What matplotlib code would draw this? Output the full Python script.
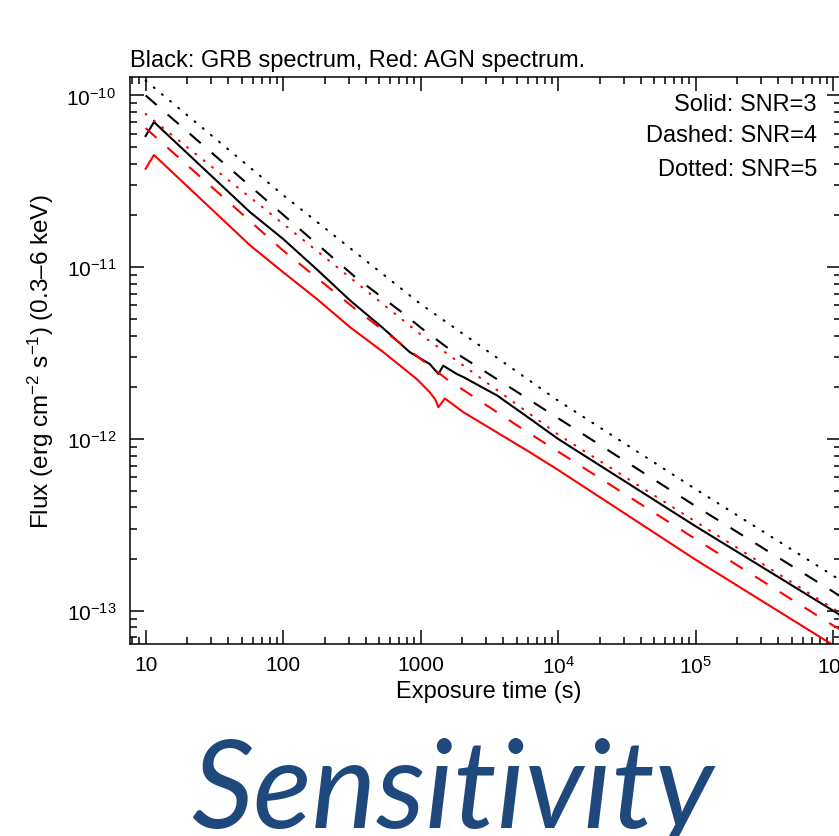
import numpy as np
import matplotlib
matplotlib.use('Agg')
import matplotlib.pyplot as plt
from matplotlib.ticker import LogLocator, NullFormatter, FuncFormatter

# exposure time (s) and flux limit (erg cm^-2 s^-1)
t_grb_solid = [10, 11.5, 57.5, 100, 176, 307, 536, 834, 1165, 1346, 1460, 1830, 2050, 3600, 6250,
               1e4, 1e5, 1e6, 1.15e6]
f_grb_solid = [5.8e-11, 7.0e-11, 2.09e-11, 1.46e-11, 9.7e-12, 6.4e-12, 4.4e-12, 3.2e-12, 2.73e-12,
               2.39e-12, 2.67e-12, 2.39e-12, 2.29e-12, 1.79e-12, 1.31e-12, 1.0e-12, 3.1e-13, 1.0e-13, 9.3e-14]

t_agn_solid = [10, 11.5, 57.5, 100, 176, 307, 536, 938, 1165, 1276, 1346, 1500, 2050, 3600, 6250,
               1e4, 1e5, 1e6, 1.15e6]
f_agn_solid = [3.74e-11, 4.5e-11, 1.34e-11, 9.35e-12, 6.53e-12, 4.47e-12, 3.2e-12, 2.23e-12, 1.87e-12,
               1.7e-12, 1.53e-12, 1.72e-12, 1.43e-12, 1.09e-12, 8.35e-13, 6.6e-13, 1.98e-13, 6.3e-14, 5.9e-14]

t_dashed = [10, 100, 335, 729, 1000, 1549, 4864, 1e4, 1e5, 1e6, 1.15e6]
f_grb_dashed = [1.0e-10, 2.02e-11, 8.75e-12, 5.47e-12, 4.45e-12, 3.42e-12, 1.91e-12, 1.32e-12, 4.06e-13, 1.29e-13, 1.2e-13]
f_agn_dashed = [6.45e-11, 1.25e-11, 5.71e-12, 3.55e-12, 2.92e-12, 2.23e-12, 1.22e-12, 8.44e-13, 2.61e-13, 8.2e-14, 7.7e-14]

t_dotted = [10, 100, 1000, 1e4, 1e5, 1e6, 1.15e6]
f_grb_dotted = [1.22e-10, 2.63e-11, 6.1e-12, 1.67e-12, 5.1e-13, 1.6e-13, 1.48e-13]
f_agn_dotted = [7.8e-11, 1.79e-11, 4.06e-12, 1.06e-12, 3.3e-13, 1.03e-13, 9.6e-14]

snr_notes = ['Solid: SNR=3', 'Dashed: SNR=4', 'Dotted: SNR=5']

plt.rcParams['font.family'] = ['Liberation Sans', 'DejaVu Sans']
plt.rcParams['mathtext.fontset'] = 'custom'
plt.rcParams['mathtext.rm'] = 'Liberation Sans'
plt.rcParams['mathtext.it'] = 'Liberation Sans:italic'
plt.rcParams['mathtext.bf'] = 'Liberation Sans:bold'

W, H = 839, 837
fig = plt.figure(figsize=(W / 100, H / 100), dpi=100)
# right spine sits just past the image edge, like the cropped slide
ax = fig.add_axes([130 / W, 1 - 645 / H, (841 - 130) / W, (645 - 78) / H])

lw = 1.5
dash = (0, (7, 7))
dot = (0, (0.5, 4.6))
ax.plot(t_grb_solid, f_grb_solid, color='black', lw=lw)
ax.plot(t_agn_solid, f_agn_solid, color='red', lw=lw)
ax.plot(t_dashed, f_grb_dashed, color='black', lw=lw, linestyle=dash)
ax.plot(t_dashed, f_agn_dashed, color='red', lw=lw, linestyle=dash)
ax.plot(t_dotted, f_grb_dotted, color='black', lw=lw, linestyle=dot, dash_capstyle='round')
ax.plot(t_dotted, f_agn_dotted, color='red', lw=lw, linestyle=dot, dash_capstyle='round')

ax.set_xscale('log')
ax.set_yscale('log')
ax.set_xlim(7.7, 1.14e6)
ax.set_ylim(6.4e-14, 1.28e-10)

ax.xaxis.set_major_locator(LogLocator(base=10, numticks=12))
ax.xaxis.set_minor_locator(LogLocator(base=10, subs=np.arange(2, 10), numticks=12))
ax.yaxis.set_major_locator(LogLocator(base=10, numticks=12))
ax.yaxis.set_minor_locator(LogLocator(base=10, subs=np.arange(2, 10), numticks=12))
ax.xaxis.set_minor_formatter(NullFormatter())
ax.yaxis.set_minor_formatter(NullFormatter())


def xfmt(v, pos):
    e = int(round(np.log10(v)))
    if e <= 3:
        return '%d' % round(v)
    return r'$\mathregular{10^{%d}}$' % e


ax.xaxis.set_major_formatter(FuncFormatter(xfmt))

ax.tick_params(which='both', direction='in', top=True, right=True, width=1.1, labelsize=15)
ax.tick_params(which='major', length=10)
ax.tick_params(which='minor', length=5)
ax.tick_params(axis='x', pad=8)
ax.tick_params(axis='y', pad=10)
for s in ax.spines.values():
    s.set_linewidth(1.1)

ax.set_title('Black: GRB spectrum, Red: AGN spectrum.', loc='left', fontsize=17, pad=8)
ax.set_xlabel('Exposure time (s)', fontsize=17)
ax.set_ylabel('Flux (erg cm$^{-2}$ s$^{-1}$) (0.3\u20136 keV)', fontsize=17.5)
ax.xaxis.set_label_coords((489 - 130) / 711, (645 - 681) / 567)
ax.yaxis.set_label_coords((56 - 130) / 711, 0.5)

for note, yb in zip(snr_notes, [111, 142, 176]):
    ax.text((817 - 130) / 711, (645 - yb) / 567, note, ha='right', va='baseline',
            fontsize=17, transform=ax.transAxes)

fig.text(452 / W, 1 - 828 / H, 'Sensitivity', ha='center', va='baseline',
         fontsize=88, family=['Lato', 'Open Sans', 'DejaVu Sans'], style='italic', color='#1f497d')

fig.savefig('out.png', dpi=100)
